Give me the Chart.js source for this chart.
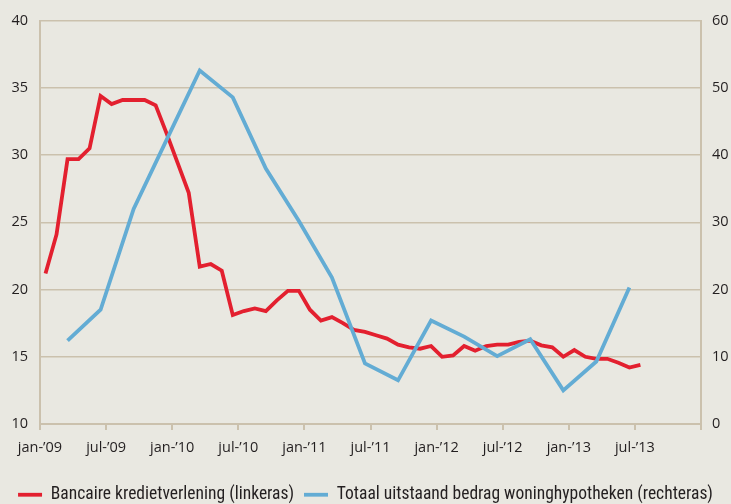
<!DOCTYPE html>
<html>
<head>
<meta charset="utf-8">
<script src="https://cdn.jsdelivr.net/npm/chart.js@4/dist/chart.umd.min.js"></script>
<style>
  html, body { margin: 0; padding: 0; background: #e9e8e1; }
  #wrap { width: 731px; height: 504px; }
</style>
</head>
<body>
<div id="wrap"><canvas id="chart"></canvas></div>
<script>
// month labels on the x axis (every 6 months, jan-'09 .. jul-'13)
const tickLabels = ['jan-\u201909', 'jul-\u201909', 'jan-\u201910', 'jul-\u201910', 'jan-\u201911',
    'jul-\u201911', 'jan-\u201912', 'jul-\u201912', 'jan-\u201913', 'jul-\u201913'];

// Bancaire kredietverlening, monthly jan-09 .. jul-13 (left axis)
const kredietMaanden = [];
for (let j = 2009; j <= 2013; j++) {
    for (let m = 1; m <= 12; m++) {
        if (j === 2013 && m > 7) break;
        kredietMaanden.push(j + '-' + String(m).padStart(2, '0'));
    }
}
const krediet = [21.2, 24.1, 29.7, 29.7, 30.5, 34.4, 33.8, 34.1, 34.1, 34.1,
    33.7, 31.6, 29.4, 27.2, 21.7, 21.9, 21.4, 18.1, 18.4, 18.6,
    18.4, 19.2, 19.9, 19.9, 18.5, 17.7, 17.95, 17.5, 17.0, 16.85,
    16.6, 16.35, 15.9, 15.7, 15.6, 15.8, 15.0, 15.1, 15.8, 15.45,
    15.8, 15.9, 15.9, 16.1, 16.2, 15.85, 15.7, 15.0, 15.5, 15.0,
    14.85, 14.85, 14.55, 14.2, 14.4];

// Totaal uitstaand bedrag woninghypotheken, quarterly mar-09 .. jun-13 (right axis)
const hypoKwartalen = ['2009-03', '2009-06', '2009-09', '2009-12', '2010-03', '2010-06',
    '2010-09', '2010-12', '2011-03', '2011-06', '2011-09', '2011-12',
    '2012-03', '2012-06', '2012-09', '2012-12', '2013-03', '2013-06'];
const hypotheken = [12.4, 17.0, 32.0, 42.3, 52.6, 48.6, 38.0, 30.2, 21.8, 9.0,
    6.5, 15.4, 13.0, 10.1, 12.6, 5.0, 9.3, 20.3];

// month string -> position on the month axis (middle of the month)
function maandPos(s) {
    const [j, m] = s.split('-').map(Number);
    return (j - 2009) * 12 + (m - 1) + 0.5;
}

const tan = '#cbc1ad';
const red = '#e3202f';
const blue = '#63acd4';
const tickFont = { family: '"Open Sans", Lato, sans-serif', size: 14.5 };

const ctx = document.getElementById('chart');
new Chart(ctx, {
    type: 'line',
    data: {
        datasets: [{
            label: 'Bancaire kredietverlening (linkeras)',
            data: krediet.map((v, i) => ({ x: maandPos(kredietMaanden[i]), y: v })),
            yAxisID: 'y',
            borderColor: red,
            backgroundColor: red,
            borderWidth: 3.8,
            pointRadius: 0,
            fill: false,
            order: 1
        }, {
            label: 'Totaal uitstaand bedrag woninghypotheken (rechteras)',
            data: hypotheken.map((v, i) => ({ x: maandPos(hypoKwartalen[i]), y: v })),
            yAxisID: 'y2',
            borderColor: blue,
            backgroundColor: blue,
            borderWidth: 3.8,
            pointRadius: 0,
            fill: false,
            order: 0
        }]
    },
    options: {
        responsive: true,
        maintainAspectRatio: false,
        animation: false,
        layout: { padding: { top: 19, left: 0, right: 0, bottom: 0 } },
        plugins: {
            tooltip: { enabled: false },
            legend: {
                position: 'bottom',
                maxHeight: 28,
                labels: {
                    usePointStyle: true,
                    pointStyle: 'line',
                    pointStyleWidth: 24,
                    padding: 10,
                    color: '#231f20',
                    font: { family: '"Liberation Sans Narrow", "Roboto Condensed", sans-serif', size: 17.5 },
                    sort: (a, b) => a.datasetIndex - b.datasetIndex
                }
            }
        },
        scales: {
            x: {
                type: 'linear',
                min: 0,
                max: 60,
                afterFit: s => { s.height = 52; },
                border: { display: true, color: tan, width: 2 },
                grid: { drawOnChartArea: false, drawTicks: true, tickLength: 6, color: tan, lineWidth: 2 },
                afterBuildTicks: s => {
                    s.ticks = [];
                    for (let v = 0; v <= 60; v += 6) s.ticks.push({ value: v });
                },
                ticks: {
                    autoSkip: false,
                    maxRotation: 0,
                    padding: 9,
                    color: '#231f20',
                    font: tickFont,
                    callback: v => tickLabels[v / 6] || ''
                }
            },
            y: {
                position: 'left',
                min: 10,
                max: 40,
                afterFit: s => { s.width = 40; },
                border: { display: true, color: tan, width: 2 },
                grid: { color: tan, lineWidth: 1.5, drawTicks: false },
                ticks: { stepSize: 5, padding: 12, color: '#231f20', font: tickFont }
            },
            y2: {
                position: 'right',
                min: 0,
                max: 60,
                afterFit: s => { s.width = 30; },
                border: { display: true, color: tan, width: 2 },
                grid: { drawOnChartArea: false, drawTicks: false },
                ticks: { stepSize: 10, padding: 11, color: '#231f20', font: tickFont }
            }
        }
    }
});
</script>
</body>
</html>
